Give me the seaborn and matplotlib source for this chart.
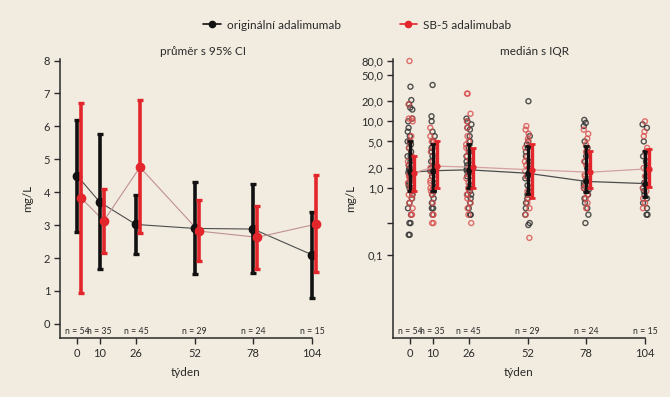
import numpy as np
import pandas as pd
import matplotlib
matplotlib.use("Agg")
import matplotlib.pyplot as plt
import matplotlib.transforms as mtransforms
from matplotlib.lines import Line2D
from matplotlib.ticker import NullLocator
import seaborn as sns

weeks = [0, 10, 26, 52, 78, 104]
n_labels = ["n = 54", "n = 35", "n = 45", "n = 29", "n = 24", "n = 15"]

# left panel: mean with 95% CI
orig_mean = [4.50, 3.70, 3.02, 2.90, 2.88, 2.10]
orig_ci_lo = [2.80, 1.67, 2.13, 1.52, 1.55, 0.78]
orig_ci_hi = [6.18, 5.78, 3.90, 4.32, 4.25, 3.40]
sb5_mean = [3.82, 3.13, 4.76, 2.82, 2.63, 3.03]
sb5_ci_lo = [0.93, 2.15, 2.75, 1.90, 1.68, 1.57]
sb5_ci_hi = [6.70, 4.10, 6.80, 3.75, 3.58, 4.53]

# right panel: median with IQR
orig_med = [1.73, 1.82, 1.88, 1.67, 1.26, 1.17]
orig_q1 = [0.92, 0.90, 1.00, 0.83, 0.87, 0.73]
orig_q3 = [5.1, 4.5, 4.5, 4.3, 4.3, 3.65]
sb5_med = [1.70, 2.13, 2.06, 1.88, 1.73, 1.95]
sb5_q1 = [0.90, 1.00, 1.00, 0.70, 1.00, 1.03]
sb5_q3 = [3.0, 5.0, 4.0, 4.5, 3.65, 3.9]

# individual values (mg/L) per week
orig_pts = {
    0: [33, 20.8, 18, 16, 15, 11, 10, 8, 7, 6, 5, 5, 4.5, 4, 3.5, 3, 3, 2.5, 2.2, 2,
        1.9, 1.8, 1.8, 1.7, 1.5, 1.4, 1.2, 1.1, 1.0, 1.0, 0.9, 0.9, 0.8, 0.7, 0.6,
        0.5, 0.4, 0.3, 0.3, 0.2, 0.2],
    10: [35, 11.9, 10, 7, 6, 5, 4, 3.5, 3, 2.5, 2, 1.9, 1.8, 1.7, 1.5, 1.2, 1.0, 0.9,
         0.9, 0.8, 0.7, 0.6, 0.5, 0.5, 0.4],
    26: [11, 10, 9, 8, 7.5, 6, 5, 4, 3.5, 3, 2.5, 2.2, 2, 1.9, 1.8, 1.7, 1.5, 1.3, 1.1,
         1.0, 0.9, 0.8, 0.8, 0.7, 0.6, 0.5, 0.4, 0.4],
    52: [20, 6, 5, 4.5, 4, 3.5, 3, 2.5, 2, 1.8, 1.6, 1.5, 1.4, 1.1, 1.0, 0.9, 0.8, 0.7,
         0.6, 0.5, 0.4, 0.3, 0.28],
    78: [10.5, 9.5, 8.5, 5, 4, 3.5, 3, 2.5, 2, 1.6, 1.3, 1.2, 1.1, 1.0, 0.95, 0.9, 0.8,
         0.7, 0.6, 0.5, 0.4, 0.3],
    104: [9, 8, 5, 3.5, 3, 2.5, 2, 1.5, 1.2, 1.1, 1.0, 0.9, 0.8, 0.7, 0.6, 0.5, 0.4, 0.4],
}
sb5_pts = {
    0: [80, 18, 11, 11, 10, 6, 5, 4, 3, 2.8, 2.5, 2.2, 2.0, 1.8, 1.6, 1.5, 1.4, 1.3, 1.2,
        1.1, 1.0, 0.9, 0.8, 0.8, 0.7, 0.6, 0.5, 0.4, 0.4],
    10: [8, 6, 5, 5, 4, 3.5, 3, 2.5, 2.2, 2.0, 2.0, 1.8, 1.6, 1.5, 1.3, 1.2, 1.0, 1.0,
         0.9, 0.8, 0.6, 0.4, 0.4, 0.3, 0.3],
    26: [26, 26, 13, 10, 8, 6, 5, 4.5, 4, 3.5, 3, 2.6, 2.2, 2.0, 1.8, 1.6, 1.4, 1.2,
         1.0, 0.9, 0.8, 0.7, 0.6, 0.5, 0.4, 0.3],
    52: [8.5, 7.5, 6.5, 5.5, 5, 4, 3, 2.5, 2.2, 2, 1.8, 1.5, 1.2, 1.0, 0.9, 0.8, 0.7,
         0.6, 0.5, 0.4, 0.18],
    78: [7.5, 6.5, 5.5, 4.5, 4, 3.5, 3, 2.5, 2.2, 2, 1.8, 1.6, 1.5, 1.3, 1.1, 1.0, 0.8,
         0.7, 0.6, 0.5],
    104: [10, 7, 6, 4, 3.5, 3, 2.5, 2.0, 1.9, 1.8, 1.5, 1.2, 1.0, 0.9, 0.7, 0.6, 0.5],
}

bg = "#F2ECE0"
ink = "#2a2a2a"
black_c = "#111111"
red_c = "#E3262B"

sns.set_theme(style="ticks")
plt.rcParams["font.family"] = ["Lato", "DejaVu Sans"]
plt.rcParams["text.color"] = ink
plt.rcParams["axes.labelcolor"] = ink

fig = plt.figure(figsize=(6.7, 3.97), dpi=100, facecolor=bg)
ax1 = fig.add_axes([0.0896, 0.1486, 0.376, 0.703])
ax2 = fig.add_axes([0.5866, 0.1486, 0.376, 0.703])
for ax in (ax1, ax2):
    ax.set_facecolor(bg)

x_orig = np.array(weeks, dtype=float)
x_sb5 = x_orig + 1.8

# ---- left: mean with 95% CI
sns.lineplot(x=x_orig, y=orig_mean, color="#4d4d4d", lw=0.8, ax=ax1, zorder=1)
sns.lineplot(x=x_sb5, y=sb5_mean, color="#c09090", lw=0.8, ax=ax1, zorder=1)
ax1.errorbar(x_orig, orig_mean,
             yerr=[np.subtract(orig_mean, orig_ci_lo), np.subtract(orig_ci_hi, orig_mean)],
             fmt="o", color=black_c, ms=6, elinewidth=2.6, capsize=2.5, capthick=2.4, zorder=3)
ax1.errorbar(x_sb5, sb5_mean,
             yerr=[np.subtract(sb5_mean, sb5_ci_lo), np.subtract(sb5_ci_hi, sb5_mean)],
             fmt="o", color=red_c, ms=6, elinewidth=2.6, capsize=2.5, capthick=2.4, zorder=4)
ax1.set_ylim(-0.43, 8.05)
ax1.set_yticks(range(0, 9))
ax1.set_title("průměr s 95% CI", fontsize=8.5, x=0.567, pad=3, color=ink)

# ---- right: median with IQR + individual values
ax2.set_yscale("log")
orig_df = pd.DataFrame([(w, v) for w in weeks for v in orig_pts[w]], columns=["week", "value"])
sb5_df = pd.DataFrame([(w, v) for w in weeks for v in sb5_pts[w]], columns=["week", "value"])

np.random.seed(3)
n0 = len(ax2.collections)
sns.stripplot(data=orig_df, x="week", y="value", native_scale=True, orient="v",
              jitter=0.12, size=3.6, color="#333333", ax=ax2, zorder=2)
for coll in ax2.collections[n0:]:
    coll.set_facecolor("none")
    coll.set_edgecolor((0.2, 0.2, 0.2, 0.85))
    coll.set_linewidth(1.0)
n1 = len(ax2.collections)
sns.stripplot(data=sb5_df, x="week", y="value", native_scale=True, orient="v",
              jitter=0.12, size=3.6, color="#d9534f", ax=ax2, zorder=2)
for coll in ax2.collections[n1:]:
    coll.set_facecolor("none")
    coll.set_edgecolor((0.85, 0.3, 0.3, 0.8))
    coll.set_linewidth(1.0)

sns.lineplot(x=x_orig, y=orig_med, color="#4d4d4d", lw=0.9, ax=ax2, zorder=3)
sns.lineplot(x=x_sb5, y=sb5_med, color="#d4a0a0", lw=0.9, ax=ax2, zorder=3)
ax2.errorbar(x_orig, orig_med,
             yerr=[np.subtract(orig_med, orig_q1), np.subtract(orig_q3, orig_med)],
             fmt="o", color=black_c, ms=3.5, elinewidth=2.4, capsize=2, capthick=2.0, zorder=4)
ax2.errorbar(x_sb5, sb5_med,
             yerr=[np.subtract(sb5_med, sb5_q1), np.subtract(sb5_q3, sb5_med)],
             fmt="o", color=red_c, ms=3.5, elinewidth=2.4, capsize=2, capthick=2.0, zorder=5)
ax2.set_ylim(0.0057, 86)
ax2.set_yticks([80, 50, 20, 10, 5, 2, 1, 0.3, 0.1])
ax2.set_yticklabels(["80,0", "50,0", "20,0", "10,0", "5,0", "2,0", "1,0", "", "0,1"])
ax2.yaxis.set_minor_locator(NullLocator())
ax2.set_title("medián s IQR", fontsize=8.5, x=0.56, pad=3, color=ink)

# ---- common axis styling
for ax, lp in ((ax1, 8), (ax2, 4)):
    ax.set_xlim(-7.6, 104)
    ax.set_xticks(weeks)
    ax.set_xticklabels([str(w) for w in weeks])
    ax.xaxis.set_minor_locator(NullLocator())
    ax.set_xlabel("týden", fontsize=8.5, labelpad=6)
    ax.set_ylabel("mg/L", fontsize=8.5, labelpad=lp)
    sns.despine(ax=ax)
    for side in ("left", "bottom"):
        ax.spines[side].set_color(ink)
        ax.spines[side].set_linewidth(1.1)
    ax.tick_params(axis="both", length=4, width=1, colors=ink, labelsize=8, pad=3)
    ax.grid(False)
    for art in ax.get_children():
        if hasattr(art, "set_clip_on"):
            art.set_clip_on(False)
    trans = mtransforms.blended_transform_factory(ax.transData, ax.transAxes)
    for w, lbl in zip(weeks, n_labels):
        ax.text(w, 0.024, lbl, transform=trans, ha="center", va="center",
                fontsize=6.3, color=ink)

handles = [
    Line2D([0], [0], color=black_c, lw=1.2, marker="o", ms=4.5),
    Line2D([0], [0], color=red_c, lw=1.2, marker="o", ms=4.5),
]
fig.legend(handles, ["originální adalimumab", "SB-5 adalimubab"], loc="center",
           bbox_to_anchor=(0.533, 0.937), ncol=2, frameon=False, fontsize=8.5,
           handlelength=1.5, handletextpad=0.5, columnspacing=5.0)

fig.savefig("out.png", dpi=100, facecolor=bg)
